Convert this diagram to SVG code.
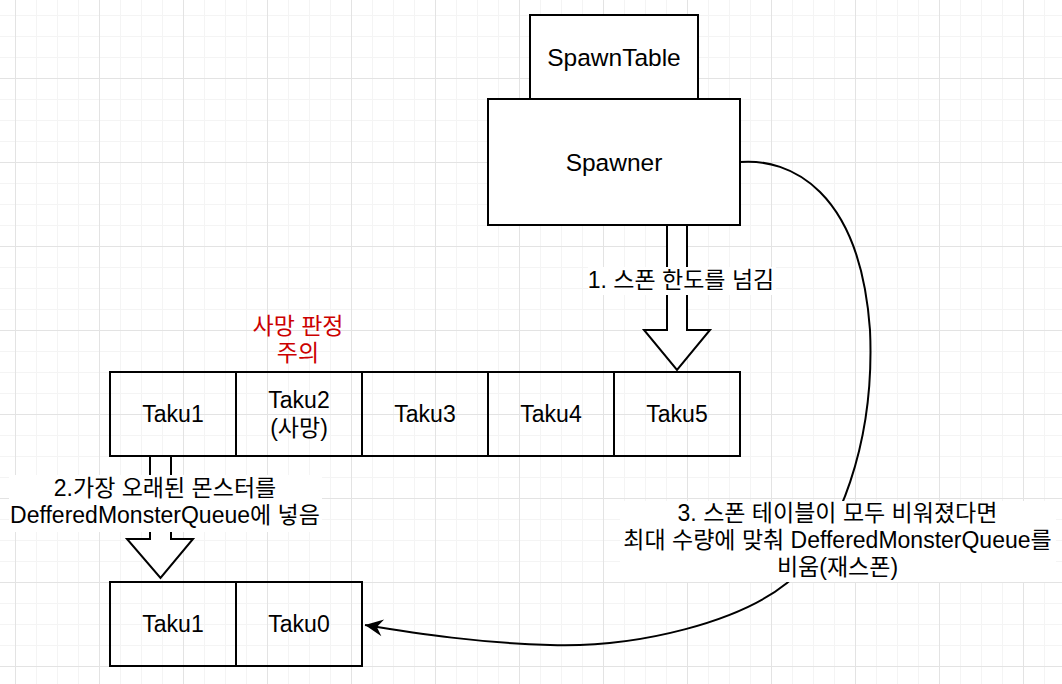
<svg xmlns="http://www.w3.org/2000/svg" width="1062" height="684" viewBox="0 0 1062 684">
<style>
.box{fill:#ffffff;stroke:#000000;stroke-width:2}
.cell{fill:none;stroke:#000000;stroke-width:2}
.blk{fill:#ffffff;stroke:#000000;stroke-width:2;stroke-linejoin:miter}
.t{font-family:"Liberation Sans","Noto Sans CJK KR",Arial,sans-serif;font-size:23px;fill:#000000;text-anchor:middle}
.big{font-size:24.5px}
.red{fill:#CC0000}
.bg{fill:#ffffff;stroke:none}
.edge{fill:none;stroke:#000000;stroke-width:2}
</style>
<defs>
<pattern id="minor" width="21" height="21" patternUnits="userSpaceOnUse" x="15" y="15">
<path d="M0.5 0 V21 M0 0.5 H21" stroke="#f4f4f4" stroke-width="1" fill="none"/>
</pattern>
<pattern id="major" width="84" height="84" patternUnits="userSpaceOnUse" x="15" y="-6">
<path d="M0.5 0 V84 M0 0.5 H84" stroke="#e3e3e3" stroke-width="1" fill="none"/>
</pattern>
<marker id="arr" markerUnits="userSpaceOnUse" markerWidth="22" markerHeight="20" viewBox="-19 -10 21 20" refX="0" refY="0" orient="auto">
<path d="M0,0 L-18,-8.5 L-12,0 L-18,8.5 Z" fill="#000000"/>
</marker>
</defs>
<rect width="1062" height="684" fill="#ffffff"/>
<rect width="1062" height="684" fill="url(#minor)"/>
<rect width="1062" height="684" fill="url(#major)"/>

<g id="connectors">
<g id="edge-limit">
<polygon class="blk" points="667,225 687,225 687,330 710,330 677,370 644,330 667,330"/>
<rect class="bg" x="588" y="267" width="188" height="28"/>
<text class="t" x="681" y="288">1. 스폰 한도를 넘김</text>
</g>
<g id="edge-queue">
<polygon class="blk" points="150,456 171,456 171,539 193,539 160.5,578 127,539 150,539"/>
<rect class="bg" x="9" y="475" width="313" height="57"/>
<text class="t" x="165" y="496">2.가장 오래된 몬스터를</text>
<text class="t" x="165" y="523">DefferedMonsterQueue에 넣음</text>
</g>
<g id="edge-respawn">
<path class="edge" marker-end="url(#arr)" d="M740,162 C790,158 860,190 870,330 C875,440 840,540 787,583 C740,621 640,648 550,645 C480,643 420,634 365,625"/>
<rect class="bg" x="620" y="501" width="436" height="81"/>
<text class="t" x="837.5" y="521">3. 스폰 테이블이 모두 비워졌다면</text>
<text class="t" x="837.5" y="548">최대 수량에 맞춰 DefferedMonsterQueue를</text>
<text class="t" x="837.5" y="575">비움(재스폰)</text>
</g>
</g>

<g id="spawntable">
<rect class="box" x="530" y="15" width="168" height="84"/>
<text class="t big" x="614" y="66">SpawnTable</text>
</g>
<g id="spawner">
<rect class="box" x="488" y="99" width="252" height="126"/>
<text class="t big" x="614" y="171">Spawner</text>
</g>

<g id="death-note">
<text class="t red" x="298" y="334">사망 판정</text>
<text class="t red" x="298" y="361">주의</text>
</g>

<g id="taku1">
<rect class="cell" x="110" y="372" width="126" height="84"/>
<text class="t" x="173" y="422">Taku1</text>
</g>
<g id="taku2">
<rect class="cell" x="236" y="372" width="126" height="84"/>
<text class="t" x="299" y="408">Taku2</text>
<text class="t" x="299" y="436">(사망)</text>
</g>
<g id="taku3">
<rect class="cell" x="362" y="372" width="126" height="84"/>
<text class="t" x="425" y="422">Taku3</text>
</g>
<g id="taku4">
<rect class="cell" x="488" y="372" width="126" height="84"/>
<text class="t" x="551" y="422">Taku4</text>
</g>
<g id="taku5">
<rect class="cell" x="614" y="372" width="126" height="84"/>
<text class="t" x="677" y="422">Taku5</text>
</g>

<g id="queue-taku1">
<rect class="cell" x="110" y="582" width="126" height="84"/>
<text class="t" x="173" y="632">Taku1</text>
</g>
<g id="queue-taku0">
<rect class="cell" x="236" y="582" width="126" height="84"/>
<text class="t" x="299" y="632">Taku0</text>
</g>
</svg>
